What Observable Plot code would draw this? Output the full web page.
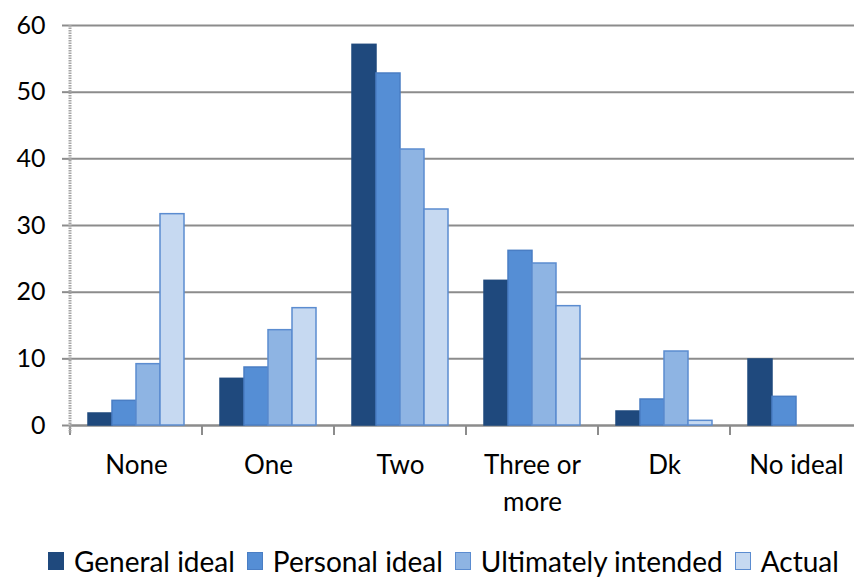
<!DOCTYPE html>
<html>
<head>
<meta charset="utf-8">
<script src="https://cdn.jsdelivr.net/npm/d3@7"></script>
<script src="https://cdn.jsdelivr.net/npm/@observablehq/plot@0.6"></script>
<style>
  html, body { margin: 0; padding: 0; background: #fff; overflow: hidden; }
  #chart { width: 862px; }
  #chart svg { display: block; max-width: none !important; width: 862px !important; height: 545px !important; }
  #legend { display: flex; align-items: center; font-family: Lato, sans-serif; font-size: 28px; line-height: 1; color: #000; padding-left: 48px; height: 32px; white-space: nowrap; }
  #legend .item { display: flex; align-items: center; margin-right: 12px; }
  #legend .sw { width: 16px; height: 18px; margin-right: 10px; box-sizing: border-box; }
</style>
</head>
<body>
<div id="chart"></div>
<div id="legend"></div>
<script>
const categories = ["None", "One", "Two", "Three or more", "Dk", "No ideal"];
const series = ["General ideal", "Personal ideal", "Ultimately intended", "Actual"];
const generalIdeal       = [1.8, 7.0, 57.1, 21.7, 2.1, 9.9];
const personalIdeal      = [3.7, 8.7, 52.8, 26.2, 3.9, 4.3];
const ultimatelyIntended = [9.2, 14.3, 41.4, 24.3, 11.1, null];
const actual             = [31.7, 17.6, 32.4, 17.9, 0.7, null];
const yTicks = [0, 10, 20, 30, 40, 50, 60];
const fills   = ["#1F497D", "#558ED5", "#8EB4E3", "#C6D9F1"];
const strokes = ["#1F497D", "#4A7EC4", "#5B8CD0", "#5B8CD0"];

const seriesValues = [generalIdeal, personalIdeal, ultimatelyIntended, actual];
const data = categories.flatMap((c, i) =>
  series.map((s, j) => ({category: c, series: s, value: seriesValues[j][i]}))
).filter(d => d.value != null);

const chart = Plot.plot({
  width: 862,
  height: 545,
  marginLeft: 70,
  marginRight: 0,
  marginTop: 25,
  marginBottom: 120,
  style: {fontFamily: "Lato, sans-serif", fontSize: "25px", color: "#000", background: "#fff"},
  fx: {domain: categories, padding: 0, label: null},
  x: {domain: series, paddingInner: 0, paddingOuter: 0.75, axis: null},
  y: {domain: [0, 60], label: null},
  color: {domain: series, range: fills},
  marks: [
    Plot.gridY(yTicks, {stroke: "#8c8c8c", strokeOpacity: 1, strokeWidth: 2}),
    Plot.axisY(yTicks, {tickSize: 8, tickPadding: 17, stroke: "#8c8c8c", strokeWidth: 2, fill: "#000", fontSize: 25, label: null}),
    Plot.ruleY([0], {stroke: "#8c8c8c", strokeWidth: 2}),
    Plot.barY(data, {
      fx: "category", x: "series", y: "value",
      fill: "series",
      stroke: d => strokes[series.indexOf(d.series)],
      strokeWidth: 1.5
    }),
    Plot.axisFx({
      anchor: "bottom",
      tickSize: 0, tickPadding: 22, fontSize: 26, label: null,
      lineHeight: 1.42,
      tickFormat: d => d === "Three or more" ? "Three or\nmore" : d
    })
  ]
});

document.getElementById("chart").appendChild(chart);

// Axis lines and category boundary ticks, positioned from Plot's own scales
const svg = d3.select(chart);
const fx = chart.scale("fx");
const y = chart.scale("y");
const y0 = y.apply(0), y60 = y.apply(60);
const left = fx.apply(categories[0]);
const bounds = categories.map(c => fx.apply(c)).concat([fx.apply(categories[categories.length - 1]) + fx.bandwidth]);
const g = svg.append("g");
g.selectAll("line.b").data(bounds).join("line")
  .attr("x1", d => d).attr("x2", d => d)
  .attr("y1", y0).attr("y2", y0 + 10)
  .attr("stroke", "#8c8c8c").attr("stroke-width", 2);
g.append("line")
  .attr("x1", left).attr("x2", left)
  .attr("y1", y60).attr("y2", y0 + 8)
  .attr("stroke", "#a6a6a6").attr("stroke-width", 3)
  .attr("stroke-dasharray", "1.5 1");

// Legend
const legend = d3.select("#legend");
series.forEach((s, i) => {
  const it = legend.append("div").attr("class", "item");
  it.append("div").attr("class", "sw")
    .style("background", fills[i])
    .style("border", `1.5px solid ${strokes[i]}`);
  it.append("span").text(s);
});
</script>
</body>
</html>
